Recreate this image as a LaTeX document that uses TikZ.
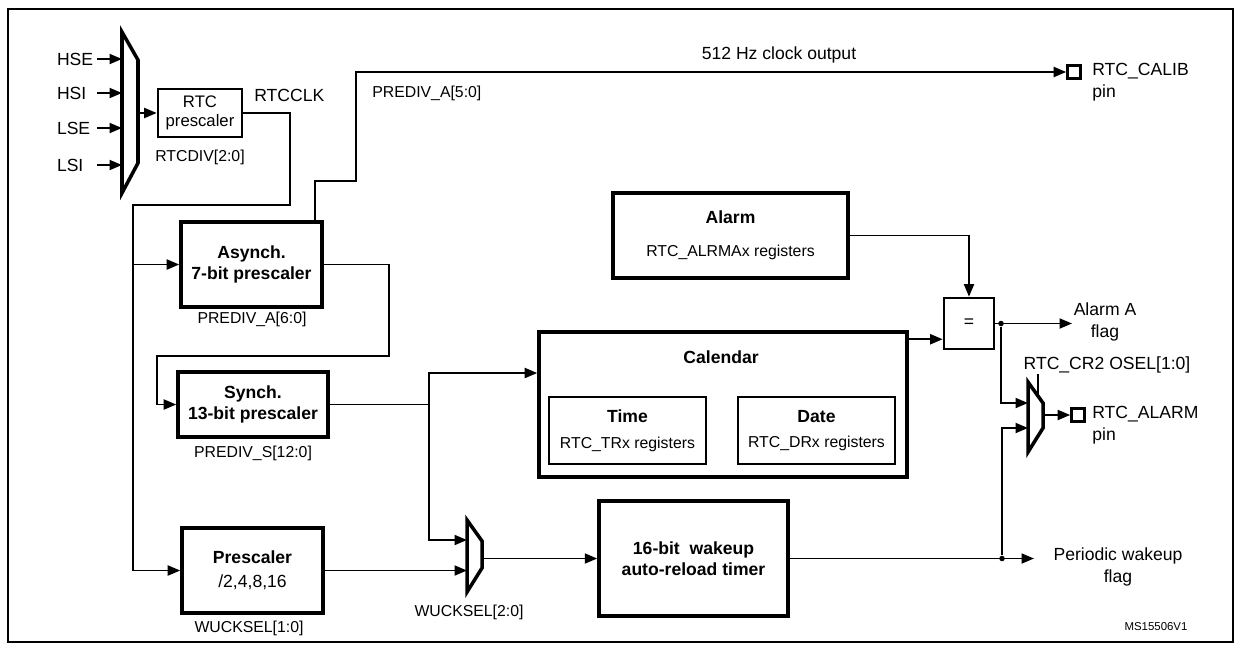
\documentclass[tikz,border=0pt]{standalone}
\usepackage{fontspec}
\setmainfont{Liberation Sans}
\usetikzlibrary{arrows.meta, positioning}

\tikzset{
  blk/.style={draw, line width=2pt, font=\fontsize{10}{12}\selectfont\bfseries, align=center, inner sep=0pt},
  thinblk/.style={blk, line width=1.5pt},
  reg/.style={font=\fontsize{9}{11}\selectfont, inner sep=0pt},
  sig/.style={font=\fontsize{10}{12.5}\selectfont, inner sep=0pt},
  wire/.style={line width=1.1pt},
  arr/.style={wire, -{Triangle[length=2.5mm,width=2mm]}},
  muxsh/.style={line width=2pt, line join=miter},
  pinsq/.style={draw, line width=1.5pt, minimum size=2.6mm, inner sep=0pt},
  jdot/.style={circle, fill, inner sep=0pt, minimum size=1.1mm},
}

\begin{document}
\begin{tikzpicture}[x=0.2mm, y=-0.2mm]
    \useasboundingbox (0,0) rectangle (1239,644);
    \draw[line width=1.2pt] (8,9) rectangle (1233,642);

    % Clock source mux
    \draw[muxsh] (122,32) coordinate (m1a) -- (138,60) -- (138,163) -- (122,193) -- cycle;
    \coordinate (m1o) at (138,113);
    \foreach \name/\y in {HSE/59, HSI/93, LSE/128, LSI/165} {
        \node[sig, text width=8mm, align=left] (\name) at (77,\y) {\name};
        \draw[arr] (\name) -- (\name -| m1a);
    }

    % RTC prescaler
    \node[thinblk, font=\fontsize{9.5}{11}\selectfont, minimum width=16.8mm, minimum height=9.6mm] (rtcpre) at (200,113) {RTC\\prescaler};
    \node[sig, anchor=west] at (254,95) {RTCCLK};
    \node[reg] at (200,157) {RTCDIV[2:0]};
    \draw[arr] (m1o) -- (rtcpre.west);

    % Prescalers
    \node[blk, minimum width=28.2mm, minimum height=17mm] (asynch) at (251.5,264.5) {Asynch.\\7-bit prescaler};
    \node[reg] at (252,319) {PREDIV\_A[6:0]};
    \node[blk, font=\fontsize{10}{11.5}\selectfont\bfseries, minimum width=30mm, minimum height=13mm] (synch) at (253,404.5) {Synch.\\13-bit prescaler};
    \node[reg] at (253,453) {PREDIV\_S[12:0]};
    \node[blk, minimum width=28.2mm, minimum height=17mm] (wupre) at (252.5,570.5) {Prescaler\\[1.6pt]{\normalfont /2,4,8,16}};
    \node[reg] at (249,628) {WUCKSEL[1:0]};

    % RTCCLK bus
    \coordinate (busR) at (290,205);
    \coordinate (busL) at (133,205);
    \draw[arr] (rtcpre.east) -| (busR) -- (busL) |- (wupre.west);
    \draw[arr] (busL |- asynch.west) -- (asynch.west);

    % 512 Hz calibration output
    \node[pinsq] (calpin) at (1074,72) {};
    \node[sig, anchor=west, align=left] at (1092,82.5) {RTC\_CALIB\\pin};
    \node[sig] at (779,55) {512 Hz clock output};
    \node[reg, anchor=west] at (372,93) {PREDIV\_A[5:0]};
    \coordinate (up1) at (356,181);
    \draw[arr] ([xshift=-1.8mm]asynch.north east) |- (up1) |- (calpin.west);

    % Asynch to synch
    \coordinate (loopR) at (389,356);
    \coordinate (loopL) at (157,356);
    \draw[arr] (asynch.east) -| (loopR) -| (loopL) |- (synch.west);

    % Calendar
    \node[blk, minimum width=73.6mm, minimum height=29mm] (cal) at (723,404.5) {};
    \node[blk, draw=none] at (721,357) {Calendar};
    \node[thinblk, minimum width=31.4mm, minimum height=13.4mm] (time) at (627.5,430.5) {Time\\[2.7pt]{\normalfont\fontsize{9}{11}\selectfont RTC\_TRx registers}};
    \node[thinblk, minimum width=31.4mm, minimum height=13.4mm] (date) at (816.5,430.5) {Date\\[2.7pt]{\normalfont\fontsize{9}{11}\selectfont RTC\_DRx registers}};
    \coordinate (tap) at (429,373);
    \draw[arr] (synch.east) -| (tap) -- (tap -| cal.west);

    % Wakeup clock mux and timer
    \draw[muxsh] (467,520) coordinate (m3lt) -- (482,541) -- (482,568) -- (467,592) -- cycle;
    \coordinate (m3i1) at (467,540);
    \coordinate (m3o) at (482,558.5);
    \node[reg] at (469,612) {WUCKSEL[2:0]};
    \draw[arr] (synch.east -| tap) |- (m3i1);
    \draw[arr] (wupre.east) -- (wupre.east -| m3lt);
    \node[blk, minimum width=37.8mm, minimum height=23mm] (timer) at (693.5,558.5) {16-bit~ wakeup\\auto-reload timer};
    \draw[arr] (m3o) -- (timer.west);

    % Alarm
    \node[blk, minimum width=47mm, minimum height=17mm] (alarm) at (730.5,235.5) {Alarm\\[6.7pt]{\normalfont\fontsize{9}{11}\selectfont RTC\_ALRMAx registers}};
    \node[thinblk, font=\fontsize{10}{12}\selectfont, minimum width=10mm, minimum height=10.2mm] (eq) at (969,323.5) {=};
    \draw[arr] (alarm.east) -| (eq.north);
    \coordinate (calo) at ([yshift=-1.8mm]cal.north east);
    \draw[arr] (calo) -- (calo -| eq.west);

    % Outputs
    \node[jdot] (j1) at (1001,323.5) {};
    \coordinate (afend) at (1072,323.5);
    \node[sig, align=center] at (1105,322) {Alarm A\\flag};
    \draw[arr] (eq.east) -- (afend);

    \draw[muxsh] (1028,382) -- (1043,403) -- (1043,428) -- (1028,452) -- cycle;
    \coordinate (m2i1) at (1028,403);
    \coordinate (m2i2) at (1028,428);
    \coordinate (m2o) at (1043,415);
    \coordinate (m2sel) at (1038,396);
    \node[sig] (osel) at (1107,365) {RTC\_CR2 OSEL[1:0]};
    \draw[wire] (m2sel) -- (m2sel |- osel.south);
    \draw[arr] (j1) |- (m2i1);
    \node[pinsq] (alpin) at (1078,415) {};
    \node[sig, anchor=west, align=left] at (1092,425) {RTC\_ALARM\\pin};
    \draw[arr] (m2o) -- (alpin.west);

    \node[jdot] (j2) at (1002,558.5) {};
    \coordinate (wkend) at (1034,558.5);
    \draw[arr] (timer.east) -- (wkend);
    \draw[arr] (j2) |- (m2i2);
    \node[sig, align=center] at (1118,566.5) {Periodic wakeup\\flag};

    \node[font=\fontsize{6.5}{8}\selectfont, inner sep=0pt] at (1156,627) {MS15506V1};
\end{tikzpicture}
\end{document}
